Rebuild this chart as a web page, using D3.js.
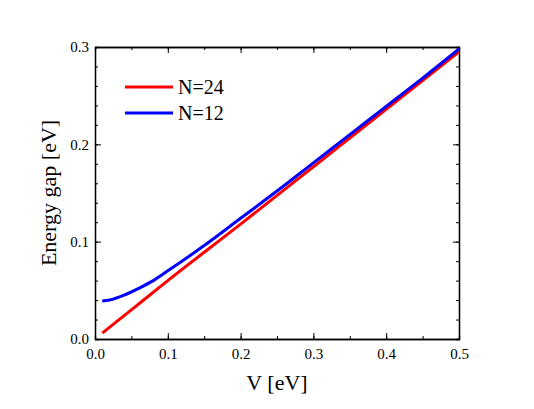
<!DOCTYPE html>
<html><head><meta charset="utf-8">
<script src="https://cdn.jsdelivr.net/npm/d3@7"></script>
<style>body{margin:0;background:#fff}text{font-family:"Liberation Serif",serif}</style>
</head><body><svg id="c" width="534" height="409"></svg>
<script>
// ── Data ──
const vN24 = [0.01, 0.05, 0.1, 0.2, 0.3, 0.4, 0.5];
const gapN24 = [0.006, 0.030, 0.060, 0.118, 0.177, 0.236, 0.295];
const vN12 = [0.01, 0.02, 0.04, 0.06, 0.08, 0.1, 0.15, 0.2, 0.25, 0.3, 0.35, 0.4, 0.45, 0.5];
const gapN12 = [0.039, 0.040, 0.045, 0.052, 0.060, 0.070, 0.096, 0.124, 0.152, 0.181, 0.210, 0.239, 0.268, 0.298];
const xTicks = [0, 0.1, 0.2, 0.3, 0.4, 0.5];
const yTicks = [0, 0.1, 0.2, 0.3];

const svg = d3.select('#c');
const L = 95, R = 459, T = 47, B = 339;
const x = d3.scaleLinear().domain([0, 0.5]).range([L, R]);
const y = d3.scaleLinear().domain([0, 0.3]).range([B, T]);

const tk = (axis, vals, size) => axis.tickValues(vals).tickSizeInner(size).tickSizeOuter(0).tickPadding(6);
function axes(g) {
  g.selectAll('.domain').attr('stroke', '#000').attr('stroke-width', 1.3);
  g.selectAll('line').attr('stroke', '#000');
  g.selectAll('text').attr('font-size', 15).attr('fill', '#000').style('font-family', '"Liberation Serif",serif');
}
const xMinor = d3.range(0, 0.501, 0.05), yMinor = d3.range(0, 0.301, 0.02);
// minor ticks
[[d3.axisBottom(x), B, xMinor, 0], [d3.axisTop(x), T, xMinor, 0]].forEach(([a, p, v]) =>
  svg.append('g').attr('transform', `translate(0,${p})`).call(a.tickValues(v).tickSize(-3).tickFormat('')).call(axes));
[[d3.axisLeft(y), L, yMinor], [d3.axisRight(y), R, yMinor]].forEach(([a, p, v]) =>
  svg.append('g').attr('transform', `translate(${p},0)`).call(a.tickValues(v).tickSize(-3).tickFormat('')).call(axes));
// major ticks
svg.append('g').attr('transform', `translate(0,${B})`).call(tk(d3.axisBottom(x), xTicks, -6).tickFormat(d3.format('.1f'))).call(axes)
  .selectAll('text').attr('dy', '0.9em');
svg.append('g').attr('transform', `translate(0,${T})`).call(tk(d3.axisTop(x), xTicks, -6).tickFormat('')).call(axes);
svg.append('g').attr('transform', `translate(${L},0)`).call(tk(d3.axisLeft(y), yTicks, -6).tickFormat(d3.format('.1f'))).call(axes);
svg.append('g').attr('transform', `translate(${R},0)`).call(tk(d3.axisRight(y), yTicks, -6).tickFormat('')).call(axes);

const line = d3.line().x(d => x(d[0])).y(d => y(d[1])).curve(d3.curveMonotoneX);
const series = [
  { name: 'N=24', color: '#ff0000', v: vN24, g: gapN24 },
  { name: 'N=12', color: '#0000ff', v: vN12, g: gapN12 },
];
series.forEach(s => svg.append('path').attr('d', line(s.v.map((v, i) => [v, s.g[i]])))
  .attr('fill', 'none').attr('stroke', s.color).attr('stroke-width', 3));

// legend
series.forEach((s, i) => {
  const ly = 87 + i * 26;
  svg.append('line').attr('x1', 125).attr('x2', 173).attr('y1', ly).attr('y2', ly)
    .attr('stroke', s.color).attr('stroke-width', 3);
  svg.append('text').attr('x', 178).attr('y', ly + 7).attr('font-size', 20).text(s.name);
});

svg.append('text').attr('x', (L + R) / 2).attr('y', 390).attr('text-anchor', 'middle').attr('font-size', 22).text('V [eV]');
svg.append('text').attr('transform', `translate(56,${(T + B) / 2}) rotate(-90)`).attr('text-anchor', 'middle')
  .attr('font-size', 22).text('Energy gap [eV]');
</script></body></html>
